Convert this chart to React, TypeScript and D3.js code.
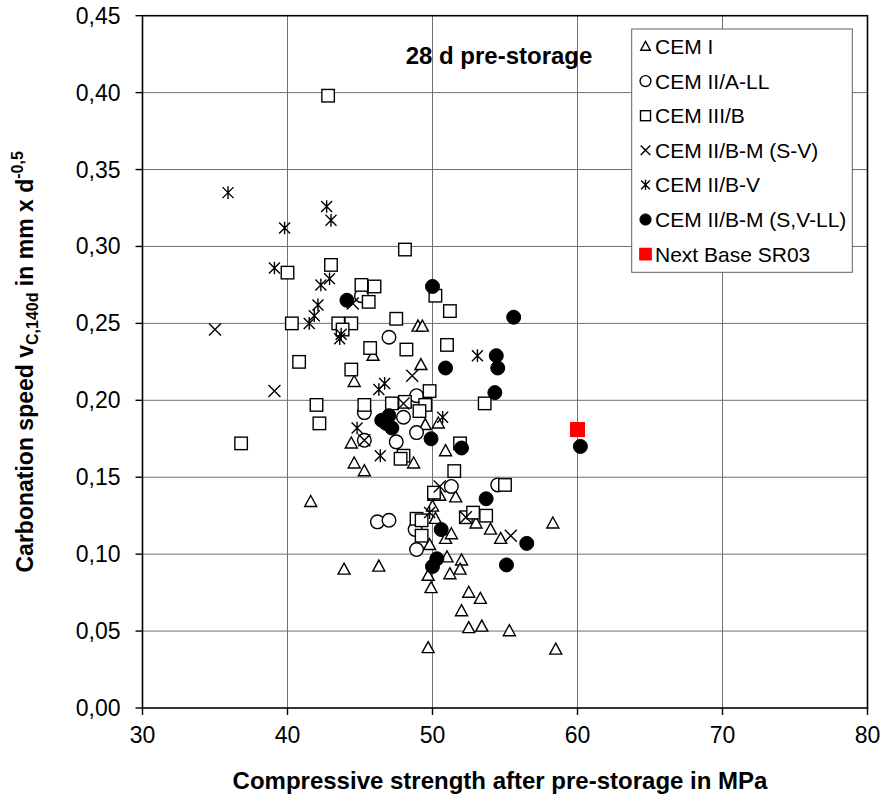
import React from "react";
import * as d3 from "d3";

// ---- data: [compressive strength MPa, carbonation speed] ----
const cemI: [number, number][] = [
  [41.6, 0.134], [43.9, 0.090], [46.3, 0.092], [44.4, 0.172], [44.6, 0.159], [45.3, 0.154],
  [44.6, 0.212], [45.9, 0.229], [49.0, 0.248], [49.3, 0.248], [49.2, 0.223], [49.5, 0.184],
  [50.4, 0.185], [50.9, 0.167], [48.7, 0.159], [50.1, 0.138], [50.5, 0.138], [51.6, 0.137],
  [50.0, 0.131], [50.2, 0.123], [53.0, 0.120], [54.0, 0.116], [54.7, 0.110], [58.3, 0.120],
  [50.9, 0.110], [51.3, 0.113], [49.8, 0.106], [51.0, 0.098], [52.0, 0.096], [51.9, 0.090],
  [51.2, 0.087], [49.7, 0.086], [49.9, 0.078], [52.5, 0.075], [53.3, 0.071], [52.0, 0.063],
  [52.5, 0.052], [53.4, 0.053], [55.3, 0.050], [49.7, 0.039], [58.5, 0.038],
];
const cemIIALL: [number, number][] = [
  [47.0, 0.241], [45.1, 0.268], [45.3, 0.192], [45.3, 0.174], [47.5, 0.173], [48.0, 0.189],
  [48.9, 0.203], [48.9, 0.179], [51.3, 0.144], [54.5, 0.145], [46.2, 0.121], [47.0, 0.122],
  [48.9, 0.103], [48.8, 0.116],
];
const cemIIIB: [number, number][] = [
  [42.8, 0.398], [48.1, 0.298], [40.0, 0.283], [43.0, 0.288], [45.1, 0.275], [46.0, 0.274],
  [45.6, 0.264], [50.2, 0.268], [51.2, 0.258], [40.3, 0.250], [43.5, 0.250], [44.4, 0.250],
  [43.8, 0.246], [47.5, 0.253], [51.0, 0.236], [45.7, 0.234], [48.2, 0.233], [40.8, 0.225],
  [44.4, 0.220], [49.8, 0.206], [42.0, 0.197], [45.3, 0.197], [47.2, 0.198], [48.1, 0.199],
  [49.5, 0.197], [49.1, 0.193], [42.2, 0.185], [53.6, 0.198], [51.9, 0.172], [36.8, 0.172],
  [48.0, 0.164], [47.8, 0.162], [51.5, 0.154], [55.0, 0.145], [50.1, 0.140], [52.3, 0.124],
  [52.8, 0.127], [53.7, 0.125], [48.9, 0.123], [49.25, 0.122], [49.25, 0.112],
];
const cemIIBMSV: [number, number][] = [
  [35.0, 0.246], [39.1, 0.206], [44.5, 0.263], [48.6, 0.216], [48.0, 0.198], [45.3, 0.174],
  [50.5, 0.144], [52.3, 0.124], [55.4, 0.112],
];
const cemIIBV: [number, number][] = [
  [35.9, 0.335], [39.8, 0.312], [39.1, 0.286], [42.7, 0.326], [43.0, 0.317], [42.9, 0.279],
  [42.3, 0.275], [42.1, 0.262], [41.85, 0.255], [41.5, 0.250], [43.6, 0.240], [43.7, 0.243],
  [46.7, 0.211], [46.3, 0.207], [44.8, 0.182], [46.4, 0.164], [50.7, 0.189], [53.1, 0.229],
  [49.8, 0.127],
];
const cemIIBMSVLL: [number, number][] = [
  [44.1, 0.265], [50.0, 0.274], [55.6, 0.254], [54.4, 0.229], [54.5, 0.221], [50.9, 0.221],
  [54.3, 0.205], [46.5, 0.187], [47.0, 0.190], [47.2, 0.182], [46.8, 0.185], [49.9, 0.175],
  [52.0, 0.169], [60.2, 0.170], [53.7, 0.136], [50.6, 0.116], [56.5, 0.107], [50.3, 0.097],
  [50.0, 0.092], [55.1, 0.093],
];
const nextBase: [number, number][] = [[60.0, 0.181]];

const xTicks = [30, 40, 50, 60, 70, 80];
const yTicks = [0, 0.05, 0.1, 0.15, 0.2, 0.25, 0.3, 0.35, 0.4, 0.45];
const legendLabels = [
  "CEM I",
  "CEM II/A-LL",
  "CEM III/B",
  "CEM II/B-M (S-V)",
  "CEM II/B-V",
  "CEM II/B-M (S,V-LL)",
  "Next Base SR03",
];

type Kind = "tri" | "circ" | "sq" | "x" | "ast" | "fcirc" | "red";

function Marker({ kind, x, y, s = 1 }: { kind: Kind; x: number; y: number; s?: number }) {
  const sw = 1.4;
  switch (kind) {
    case "tri": {
      const h = 11 * s, w = 12 * s;
      const p = `M${x},${y - h * 0.58}L${x + w / 2},${y + h * 0.42}L${x - w / 2},${y + h * 0.42}Z`;
      return <path d={p} fill="#fff" stroke="#000" strokeWidth={sw} />;
    }
    case "circ":
      return <circle cx={x} cy={y} r={6.8 * s} fill="#fff" stroke="#000" strokeWidth={sw} />;
    case "sq": {
      const a = 12.5 * s;
      return <rect x={x - a / 2} y={y - a / 2} width={a} height={a} fill="#fff" stroke="#000" strokeWidth={sw} />;
    }
    case "x": {
      const a = 6 * s;
      return (
        <path d={`M${x - a},${y - a}L${x + a},${y + a}M${x - a},${y + a}L${x + a},${y - a}`} stroke="#000" strokeWidth={sw} fill="none" />
      );
    }
    case "ast": {
      const a = 5.5 * s;
      return (
        <path
          d={`M${x - a},${y - a}L${x + a},${y + a}M${x - a},${y + a}L${x + a},${y - a}M${x},${y - a * 1.15}L${x},${y + a * 1.15}`}
          stroke="#000"
          strokeWidth={sw}
          fill="none"
        />
      );
    }
    case "fcirc":
      return <circle cx={x} cy={y} r={7 * s} fill="#000" stroke="#000" strokeWidth={1} />;
    case "red": {
      const a = 15 * s;
      return <rect x={x - a / 2} y={y - a / 2} width={a} height={a} fill="#ff0000" />;
    }
  }
  return null;
}

export default function App() {
  const W = 883, H = 798;
  const x = d3.scaleLinear().domain([30, 80]).range([142.5, 867.5]);
  const y = d3.scaleLinear().domain([0, 0.45]).range([708, 15.7]);
  const fmt = (v: number) => d3.format(".2f")(v).replace(".", ",");
  const font = "Arial, 'Liberation Sans', sans-serif";

  const series: { data: [number, number][]; kind: Kind }[] = [
    { data: cemI, kind: "tri" },
    { data: cemIIALL, kind: "circ" },
    { data: cemIIIB, kind: "sq" },
    { data: cemIIBMSV, kind: "x" },
    { data: cemIIBV, kind: "ast" },
    { data: cemIIBMSVLL, kind: "fcirc" },
    { data: nextBase, kind: "red" },
  ];
  const legendKinds: Kind[] = ["tri", "circ", "sq", "x", "ast", "fcirc", "red"];

  const [x0, x1] = x.range();
  const [y0, y1] = y.range();

  return (
    <svg
      width={W}
      height={H}
      style={{ position: "absolute", left: 0, top: 0, background: "#fff" }}
      fontFamily={font}
    >
      <rect width={W} height={H} fill="#fff" />
      {/* grid */}
      {xTicks.slice(1, -1).map((t) => (
        <line key={"gx" + t} x1={x(t)} x2={x(t)} y1={y1} y2={y0} stroke="#707070" strokeWidth={1} />
      ))}
      {yTicks.slice(1, -1).map((t) => (
        <line key={"gy" + t} x1={x0} x2={x1} y1={y(t)} y2={y(t)} stroke="#707070" strokeWidth={1} />
      ))}
      {/* frame */}
      <rect x={x0} y={y1} width={x1 - x0} height={y0 - y1} fill="none" stroke="#000" strokeWidth={1.6} />
      {/* ticks */}
      {yTicks.map((t) => (
        <g key={"ty" + t}>
          <line x1={x0 - 7} x2={x0} y1={y(t)} y2={y(t)} stroke="#000" strokeWidth={1.4} />
          <text x={x0 - 22} y={y(t) + 8} textAnchor="end" fontSize={23}>
            {fmt(t)}
          </text>
        </g>
      ))}
      {xTicks.map((t) => (
        <g key={"tx" + t}>
          <line x1={x(t)} x2={x(t)} y1={y0} y2={y0 + 7} stroke="#000" strokeWidth={1.4} />
          <text x={x(t)} y={y0 + 35} textAnchor="middle" fontSize={23}>
            {t}
          </text>
        </g>
      ))}
      {/* marks */}
      {series.map((s, i) => (
        <g key={"s" + i}>
          {s.data.map((d, j) => (
            <Marker key={j} kind={s.kind} x={x(d[0])} y={y(d[1])} />
          ))}
        </g>
      ))}
      {/* annotation */}
      <text x={499} y={64} textAnchor="middle" fontSize={24} fontWeight="bold">
        28 d pre-storage
      </text>
      {/* legend */}
      <rect x={631.7} y={29} width={220.6} height={243.3} fill="#fff" stroke="#606060" strokeWidth={1} />
      {legendLabels.map((l, i) => {
        const cy = 46.5 + i * 34.6;
        return (
          <g key={"lg" + i}>
            <Marker kind={legendKinds[i]} x={645.5} y={cy} s={legendKinds[i] === "red" ? 0.85 : 0.8} />
            <text x={655} y={cy + 7.5} fontSize={21}>
              {l}
            </text>
          </g>
        );
      })}
      {/* axis titles */}
      <text x={500} y={789} textAnchor="middle" fontSize={24} fontWeight="bold">
        Compressive strength after pre-storage in MPa
      </text>
      <text transform={`translate(33,${(y0 + y1) / 2}) rotate(-90)`} textAnchor="middle" fontSize={23} fontWeight="bold">
        Carbonation speed v
        <tspan fontSize={16} dy={5}>C,140d</tspan>
        <tspan fontSize={23} dy={-5}> in mm x d</tspan>
        <tspan fontSize={16} dy={-10}>-0,5</tspan>
      </text>
    </svg>
  );
}
